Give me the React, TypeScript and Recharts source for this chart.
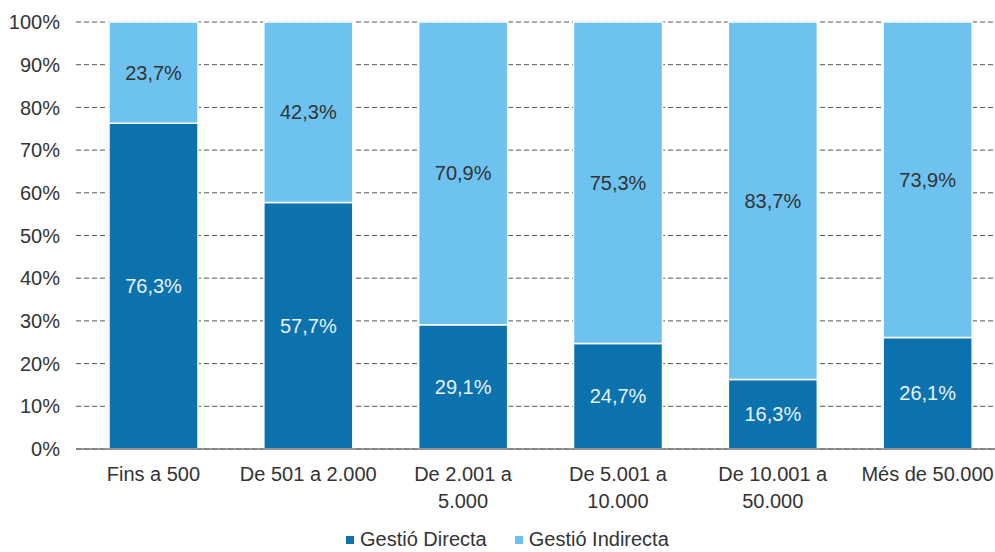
import { Bar, BarChart, CartesianGrid, LabelList, Legend, XAxis, YAxis } from 'recharts'

const categories = [
  'Fins a 500',
  'De 501 a 2.000',
  'De 2.001 a\n5.000',
  'De 5.001 a\n10.000',
  'De 10.001 a\n50.000',
  'Més de 50.000',
]
const directa   = [76.3, 57.7, 29.1, 24.7, 16.3, 26.1]
const indirecta = [23.7, 42.3, 70.9, 75.3, 83.7, 73.9]
const yTicks    = [0, 10, 20, 30, 40, 50, 60, 70, 80, 90, 100]

const DARK  = '#0b72ae'
const LIGHT = '#6dc2f0'
const TEXT  = '#333333'
const FONT  = '"Liberation Sans", Arial, sans-serif'
const FS    = 20

const data = categories.map((c, i) => ({ cat: c, directa: directa[i], indirecta: indirecta[i] }))

const fmtPct = (v: number) => `${v.toFixed(1).replace('.', ',')}%`

function CatTick({ x, y, payload }: any) {
  const lines = String(payload.value).split('\n')
  return (
    <text x={x} y={y + 11} textAnchor="middle" fill={TEXT} fontSize={FS} fontFamily={FONT}>
      {lines.map((l, i) => (
        <tspan key={i} x={x} dy={i === 0 ? '0.95em' : '1.35em'}>{l}</tspan>
      ))}
    </text>
  )
}

function LegendBox() {
  const items = [
    { name: 'Gestió Directa', color: DARK },
    { name: 'Gestió Indirecta', color: LIGHT },
  ]
  return (
    <div style={{ display: 'flex', gap: 28, paddingLeft: 346, paddingTop: 4, fontFamily: FONT, fontSize: FS, color: TEXT }}>
      {items.map(it => (
        <span key={it.name} style={{ display: 'flex', alignItems: 'center' }}>
          <span style={{ width: 8, height: 8, background: it.color, marginRight: 6, display: 'inline-block' }} />
          {it.name}
        </span>
      ))}
    </div>
  )
}

export default function App() {
  return (
    <div style={{ position: 'absolute', left: 0, top: 0, width: 995, height: 552, overflow: 'hidden', background: '#fff' }}>
      <BarChart
        width={1005}
        height={552}
        data={data}
        margin={{ top: 22, right: 0, left: 0, bottom: 0 }}
        barSize={89}
      >
        <CartesianGrid vertical={false} stroke="#555" strokeDasharray="5 3" />
        <XAxis
          dataKey="cat"
          interval={0}
          tick={<CatTick />}
          tickLine={false}
          tickSize={0}
          axisLine={{ stroke: '#777', strokeWidth: 1.5 }}
          height={75}
        />
        <YAxis
          domain={[0, 100]}
          ticks={yTicks}
          tickFormatter={(v: number) => `${v}%`}
          tick={{ fill: TEXT, fontSize: FS, fontFamily: FONT }}
          tickLine={false}
          tickSize={0}
          tickMargin={16}
          axisLine={false}
          width={76}
        />
        <Legend verticalAlign="bottom" height={28} content={<LegendBox />} />
        <Bar dataKey="directa" name="Gestió Directa" stackId="a" fill={DARK} stroke="#fff" strokeWidth={1.5} isAnimationActive={false}>
          <LabelList dataKey="directa" position="center" formatter={(v: any) => fmtPct(Number(v))} fill="#e8f3fb" fontSize={FS} fontFamily={FONT} />
        </Bar>
        <Bar dataKey="indirecta" name="Gestió Indirecta" stackId="a" fill={LIGHT} stroke="#fff" strokeWidth={1.5} isAnimationActive={false}>
          <LabelList dataKey="indirecta" position="center" formatter={(v: any) => fmtPct(Number(v))} fill={TEXT} fontSize={FS} fontFamily={FONT} />
        </Bar>
      </BarChart>
    </div>
  )
}
